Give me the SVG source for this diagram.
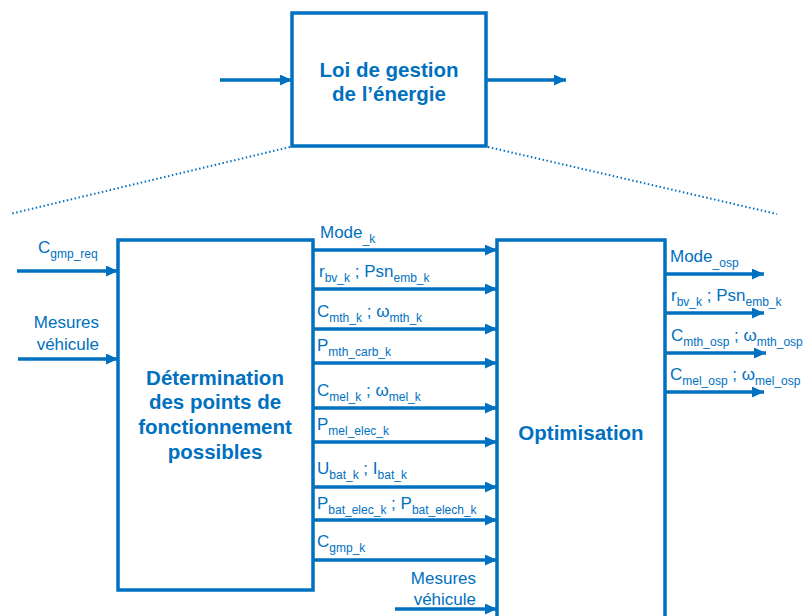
<svg xmlns="http://www.w3.org/2000/svg" width="803" height="616" viewBox="0 0 803 616">
<defs>
<marker id="ah" markerUnits="userSpaceOnUse" markerWidth="13" markerHeight="11" refX="12" refY="5.5" orient="auto">
<path d="M0,0 L12,5.5 L0,11 Z" fill="#0070C0"/>
</marker>
<style>
.box{fill:#fff;stroke:#0070C0;stroke-width:3.5}
.t{font-family:"Liberation Sans",Arial,sans-serif;font-weight:bold;font-size:20.5px;fill:#0070C0;text-anchor:middle}
.l{font-family:"Liberation Sans",Arial,sans-serif;font-size:17px;fill:#0070C0}
.s{font-size:12px}
.a{stroke:#0070C0;stroke-width:3.5;fill:none;marker-end:url(#ah)}
.d{stroke:#0070C0;stroke-width:2;fill:none;stroke-dasharray:1.5 2.5}
</style>
</defs>
<rect width="803" height="616" fill="#fff"/>
<g id="connectors">
<line class="a" x1="220" y1="80" x2="292" y2="80"/>
<line class="a" x1="486" y1="80" x2="566" y2="80"/>
<line class="d" x1="290" y1="147" x2="10" y2="214"/>
<line class="d" x1="488" y1="147" x2="777" y2="214"/>
<line class="a" x1="17" y1="271" x2="118" y2="271"/>
<line class="a" x1="18" y1="359" x2="118" y2="359"/>
<line class="a" x1="313" y1="250" x2="497" y2="250"/>
<line class="a" x1="313" y1="289" x2="497" y2="289"/>
<line class="a" x1="313" y1="329" x2="497" y2="329"/>
<line class="a" x1="313" y1="363" x2="497" y2="363"/>
<line class="a" x1="313" y1="408" x2="497" y2="408"/>
<line class="a" x1="313" y1="442" x2="497" y2="442"/>
<line class="a" x1="313" y1="487" x2="497" y2="487"/>
<line class="a" x1="313" y1="520" x2="497" y2="520"/>
<line class="a" x1="313" y1="560" x2="497" y2="560"/>
<line class="a" x1="395" y1="609" x2="497" y2="609"/>
<line class="a" x1="665" y1="274" x2="764" y2="274"/>
<line class="a" x1="665" y1="313" x2="764" y2="313"/>
<line class="a" x1="665" y1="353" x2="766" y2="353"/>
<line class="a" x1="665" y1="392" x2="764" y2="392"/>
</g>
<g id="labels">
<text class="l" x="38" y="253">C<tspan class="s" dy="5">gmp_req</tspan></text>
<text class="l" x="99" y="328" text-anchor="end">Mesures</text>
<text class="l" x="99" y="350" text-anchor="end">véhicule</text>
<text class="l" x="320" y="238">Mode<tspan class="s" dy="5">_k</tspan></text>
<text class="l" x="319" y="277">r<tspan class="s" dy="5">bv_k</tspan><tspan dy="-5"> ; Psn</tspan><tspan class="s" dy="5">emb_k</tspan></text>
<text class="l" x="317" y="317">C<tspan class="s" dy="5">mth_k</tspan><tspan dy="-5"> ; ω</tspan><tspan class="s" dy="5">mth_k</tspan></text>
<text class="l" x="317" y="351">P<tspan class="s" dy="5">mth_carb_k</tspan></text>
<text class="l" x="317" y="396">C<tspan class="s" dy="5">mel_k</tspan><tspan dy="-5"> ; ω</tspan><tspan class="s" dy="5">mel_k</tspan></text>
<text class="l" x="317" y="430">P<tspan class="s" dy="5">mel_elec_k</tspan></text>
<text class="l" x="317" y="474">U<tspan class="s" dy="5">bat_k</tspan><tspan dy="-5"> ; I</tspan><tspan class="s" dy="5">bat_k</tspan></text>
<text class="l" x="317" y="509">P<tspan class="s" dy="5">bat_elec_k</tspan><tspan dy="-5"> ; P</tspan><tspan class="s" dy="5">bat_elech_k</tspan></text>
<text class="l" x="317" y="547">C<tspan class="s" dy="5">gmp_k</tspan></text>
<text class="l" x="476" y="584" text-anchor="end">Mesures</text>
<text class="l" x="476" y="605" text-anchor="end">véhicule</text>
<text class="l" x="670" y="262">Mode<tspan class="s" dy="5">_osp</tspan></text>
<text class="l" x="671" y="301">r<tspan class="s" dy="5">bv_k</tspan><tspan dy="-5"> ; Psn</tspan><tspan class="s" dy="5">emb_k</tspan></text>
<text class="l" x="671" y="341">C<tspan class="s" dy="5">mth_osp</tspan><tspan dy="-5"> ; ω</tspan><tspan class="s" dy="5">mth_osp</tspan></text>
<text class="l" x="670" y="380">C<tspan class="s" dy="5">mel_osp</tspan><tspan dy="-5"> ; ω</tspan><tspan class="s" dy="5">mel_osp</tspan></text>
</g>
<g id="loi">
<rect class="box" x="292" y="13" width="194" height="133"/>
<text class="t" x="389" y="77">Loi de gestion</text>
<text class="t" x="389" y="101">de l’énergie</text>
</g>
<g id="determination">
<rect class="box" x="118" y="240" width="195" height="350"/>
<text class="t" x="215" y="385">Détermination</text>
<text class="t" x="215" y="409">des points de</text>
<text class="t" x="215" y="434">fonctionnement</text>
<text class="t" x="215" y="459">possibles</text>
</g>
<g id="optimisation">
<rect class="box" x="497" y="240" width="168" height="400"/>
<text class="t" x="581" y="440">Optimisation</text>
</g>
</svg>
